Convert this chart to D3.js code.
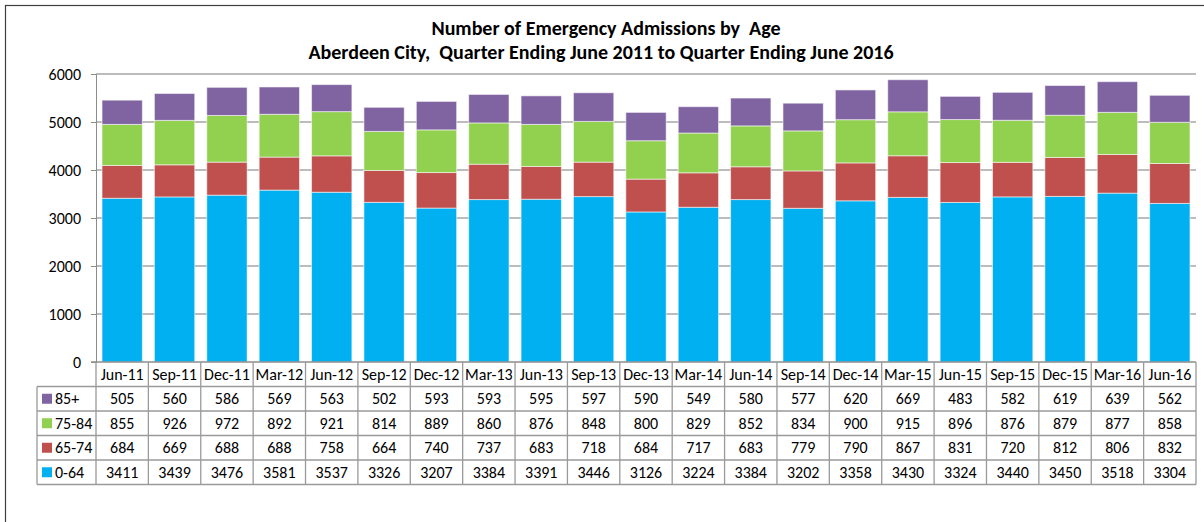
<!DOCTYPE html>
<html>
<head>
<meta charset="utf-8">
<script src="https://cdn.jsdelivr.net/npm/d3@7"></script>
<style>
  html, body { margin: 0; padding: 0; background: #fff; }
  svg { display: block; font-family: Carlito, Lato, "Open Sans", sans-serif; }
</style>
</head>
<body>
<svg id="chart" width="1204" height="522"></svg>
<script>
// Quarter labels
const quarters = ["Jun-11","Sep-11","Dec-11","Mar-12","Jun-12","Sep-12","Dec-12","Mar-13","Jun-13","Sep-13","Dec-13","Mar-14","Jun-14","Sep-14","Dec-14","Mar-15","Jun-15","Sep-15","Dec-15","Mar-16","Jun-16"];

// Emergency admissions per age band
const age0_64  = [3411,3439,3476,3581,3537,3326,3207,3384,3391,3446,3126,3224,3384,3202,3358,3430,3324,3440,3450,3518,3304];
const age65_74 = [684,669,688,688,758,664,740,737,683,718,684,717,683,779,790,867,831,720,812,806,832];
const age75_84 = [855,926,972,892,921,814,889,860,876,848,800,829,852,834,900,915,896,876,879,877,858];
const age85p   = [505,560,586,569,563,502,593,593,595,597,590,549,580,577,620,669,483,582,619,639,562];

const yTicks = [0,1000,2000,3000,4000,5000,6000];

// Series, bottom of the stack first
const series = [
  { name: "0-64",  values: age0_64,  color: "#00B0F0" },
  { name: "65-74", values: age65_74, color: "#C0504D" },
  { name: "75-84", values: age75_84, color: "#92D050" },
  { name: "85+",   values: age85p,   color: "#8064A2" }
];

const svg = d3.select("#chart");

// Outer chart frame
svg.append("rect")
  .attr("x", 5.5).attr("y", 5.5).attr("width", 1210).attr("height", 530)
  .attr("fill", "none").attr("stroke", "#404040").attr("stroke-width", 1.2);

const plot = { left: 96, right: 1196, top: 74, bottom: 362 };

const x = d3.scaleBand().domain(quarters).range([plot.left, plot.right]).paddingInner(0.23).paddingOuter(0.115);
const xCol = d3.scaleBand().domain(quarters).range([plot.left, plot.right]);
const y = d3.scaleLinear().domain([0, 6000]).range([plot.bottom, plot.top]);

// Title
const title = svg.append("g").attr("font-weight", "bold").attr("font-size", 20).attr("text-anchor", "middle").attr("fill", "#000");
title.append("text").attr("x", 606).attr("y", 35).text("Number of Emergency Admissions by  Age").attr("xml:space", "preserve");
title.append("text").attr("x", 601).attr("y", 59).text("Aberdeen City,  Quarter Ending June 2011 to Quarter Ending June 2016").attr("xml:space", "preserve");

// Gridlines
svg.append("g")
  .selectAll("line").data(yTicks.filter(d => d > 0)).join("line")
  .attr("x1", plot.left).attr("x2", plot.right)
  .attr("y1", d => y(d)).attr("y2", d => y(d))
  .attr("stroke", "#A6A6A6").attr("stroke-width", 1.3);

// Y axis
const yAxis = svg.append("g").attr("transform", `translate(${plot.left},0)`)
  .call(d3.axisLeft(y).tickValues(yTicks).tickSize(5).tickPadding(10).tickFormat(d3.format("d")));
yAxis.select(".domain").attr("stroke", "#8C8C8C");
yAxis.selectAll(".tick line").attr("stroke", "#8C8C8C");
yAxis.selectAll("text").attr("font-size", 16).attr("fill", "#000").attr("font-family", "Carlito, Lato, sans-serif");

// Stacked bars
const stack = d3.stack().keys(series.map((s, i) => i)).value((d, k) => series[k].values[d]);
const layers = stack(quarters.map((q, i) => i));

svg.append("g").selectAll("g").data(layers).join("g")
  .attr("fill", (d, i) => series[i].color)
  .selectAll("rect").data(d => d).join("rect")
  .attr("x", d => x(quarters[d.data]))
  .attr("width", x.bandwidth())
  .attr("y", d => y(d[1]))
  .attr("height", d => y(d[0]) - y(d[1]))
  .attr("stroke", "#ffffff").attr("stroke-opacity", 0.55).attr("stroke-width", 1);

// Data table under the axis
const rowH = 24.5;
const headTop = plot.bottom;
const tableLeft = 37;
const gridColor = "#9A9A9A";
const tbl = svg.append("g").attr("font-size", 16).attr("fill", "#000");

// Rows in table order: top of the stack first
const tableRows = series.slice().reverse();
const tableBottom = headTop + rowH * (tableRows.length + 1);

// Horizontal rules
const hRules = d3.range(tableRows.length + 2).map(i => headTop + i * rowH);
tbl.selectAll("line.h").data(hRules).join("line")
  .attr("class", "h")
  .attr("x1", (d, i) => i === 0 ? plot.left - 5 : tableLeft)
  .attr("x2", plot.right)
  .attr("y1", d => d).attr("y2", d => d)
  .attr("stroke", (d, i) => i === 0 ? "#8C8C8C" : gridColor).attr("stroke-width", 1.3);

// Vertical rules
const vRules = quarters.map(q => xCol(q)).concat([plot.right]);
tbl.selectAll("line.v").data(vRules).join("line")
  .attr("class", "v")
  .attr("x1", d => d).attr("x2", d => d)
  .attr("y1", headTop).attr("y2", tableBottom)
  .attr("stroke", gridColor).attr("stroke-width", 1.3);
tbl.append("line")
  .attr("x1", tableLeft).attr("x2", tableLeft)
  .attr("y1", headTop + rowH).attr("y2", tableBottom)
  .attr("stroke", gridColor).attr("stroke-width", 1.3);

// Header labels
tbl.selectAll("text.head").data(quarters).join("text")
  .attr("class", "head")
  .attr("x", d => xCol(d) + xCol.bandwidth() / 2)
  .attr("y", headTop + rowH / 2 + 5.5)
  .attr("text-anchor", "middle")
  .text(d => d);

// Legend keys and values
tableRows.forEach((s, r) => {
  const cy = headTop + rowH * (r + 1) + rowH / 2;
  tbl.append("rect").attr("x", 42).attr("y", cy - 5).attr("width", 10).attr("height", 10).attr("fill", s.color);
  tbl.append("text").attr("x", 55).attr("y", cy + 5.5).text(s.name);
  tbl.selectAll(null).data(s.values).join("text")
    .attr("x", (d, i) => xCol(quarters[i]) + xCol.bandwidth() / 2)
    .attr("y", cy + 5.5)
    .attr("text-anchor", "middle")
    .text(d => d);
});
</script>
</body>
</html>
